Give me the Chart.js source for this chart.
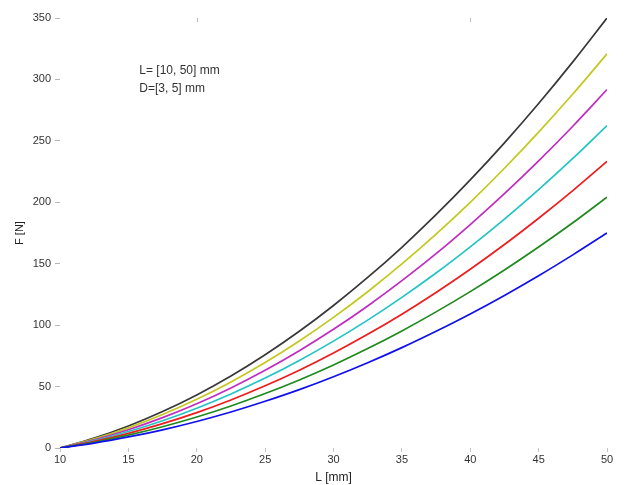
<!DOCTYPE html>
<html>
<head>
<meta charset="utf-8">
<script src="https://cdn.jsdelivr.net/npm/chart.js@4/dist/chart.umd.min.js"></script>
<style>
html,body{margin:0;padding:0;background:#fff;}
#wrap{width:629px;height:485px;position:relative;}
</style>
</head>
<body>
<div id="wrap"><canvas id="c" width="629" height="485"></canvas></div>
<script>
const lengthsMm = [10,12.5,15,17.5,20,22.5,25,27.5,30,32.5,35,37.5,40,42.5,45,47.5,50];
const forceBlue    = [0,4.0,9.0,14.8,21.6,29.3,38.0,47.5,58.0,69.4,81.7,95.0,109.1,124.2,140.2,157.2,175.0];
const forceGreen   = [0,4.7,10.5,17.3,25.2,34.2,44.3,55.4,67.6,80.9,95.3,110.8,127.3,144.9,163.6,183.3,204.2];
const forceRed     = [0,5.4,11.9,19.8,28.8,39.1,50.6,63.3,77.3,92.5,108.9,126.6,145.5,165.6,187.0,209.5,233.3];
const forceCyan    = [0,6.0,13.4,22.2,32.4,44.0,56.9,71.3,87.0,104.1,122.6,142.4,163.7,186.3,210.3,235.7,262.5];
const forceMagenta = [0,6.7,14.9,24.7,36.0,48.9,63.3,79.2,96.6,115.6,136.2,158.2,181.9,207.0,233.7,261.9,291.7];
const forceYellow  = [0,7.4,16.4,27.2,39.6,53.8,69.6,87.1,106.3,127.2,149.8,174.1,200.0,227.7,257.1,288.1,320.8];
const forceBlack   = [0,8.0,17.9,29.7,43.2,58.6,75.9,95.0,116.0,138.8,163.4,189.9,218.2,248.4,280.4,314.3,350.0];
const xTicks = [10,15,20,25,30,35,40,45,50];
const yTicks = [0,50,100,150,200,250,300,350];
const annotationLines = ["L= [10, 50] mm", "D=[3, 5] mm"];

const seriesList = [
  {name:'blue', data:forceBlue, color:'#1010ee'},
  {name:'green', data:forceGreen, color:'#1e8a1e'},
  {name:'red', data:forceRed, color:'#ee1c1c'},
  {name:'cyan', data:forceCyan, color:'#22c4c4'},
  {name:'magenta', data:forceMagenta, color:'#c02cc0'},
  {name:'yellow', data:forceYellow, color:'#c4c81e'},
  {name:'black', data:forceBlack, color:'#383838'}
];

const datasets = seriesList.map(s => ({
  label: s.name,
  data: lengthsMm.map((x,i)=>({x:x, y:s.data[i]})),
  borderColor: s.color,
  backgroundColor: s.color,
  borderWidth: 1.7,
  pointRadius: 0,
  tension: 0.4,
  cubicInterpolationMode: 'monotone',
  fill: false
}));

const annotPlugin = {
  id:'annot',
  afterDraw(chart){
    const ctx = chart.ctx;
    const xs = chart.scales.x, ys = chart.scales.y;
    ctx.save();
    ctx.font = '12px "Liberation Sans", Arial, sans-serif';
    ctx.fillStyle = '#333';
    ctx.textAlign = 'left';
    ctx.textBaseline = 'middle';
    const x0 = xs.getPixelForValue(15.8);
    ctx.fillText(annotationLines[0], x0, ys.getPixelForValue(307));
    ctx.fillText(annotationLines[1], x0, ys.getPixelForValue(292.5));
    // faint top-edge tick marks, as in the reference
    ctx.strokeStyle = 'rgba(90,90,90,0.4)';
    ctx.lineWidth = 1;
    [20,40].forEach(v=>{
      const px = Math.round(xs.getPixelForValue(v))+0.5;
      ctx.beginPath(); ctx.moveTo(px, chart.chartArea.top); ctx.lineTo(px, chart.chartArea.top+4); ctx.stroke();
    });
    ctx.restore();
  }
};

new Chart(document.getElementById('c'), {
  type:'line',
  data:{datasets},
  options:{
    responsive:false,
    animation:false,
    layout:{padding:{top:18,right:22,left:0,bottom:0}},
    plugins:{legend:{display:false},tooltip:{enabled:false}},
    scales:{
      x:{
        type:'linear', min:10, max:50,
        afterBuildTicks(axis){ axis.ticks = xTicks.map(v=>({value:v})); },
        afterFit(axis){ axis.height = 37; },
        border:{display:false},
        grid:{drawOnChartArea:false, drawTicks:true, tickLength:4, color:'rgba(0,0,0,0)', tickColor:'rgba(90,90,90,0.35)'},
        ticks:{color:'#333', font:{family:'"Liberation Sans", Arial, sans-serif', size:11}, padding:1, maxRotation:0},
        title:{display:true, text:'L [mm]', color:'#222', font:{family:'"Liberation Sans", Arial, sans-serif', size:12}, padding:{top:0,bottom:0}}
      },
      y:{
        type:'linear', min:0, max:350,
        afterBuildTicks(axis){ axis.ticks = yTicks.map(v=>({value:v})); },
        afterFit(axis){ axis.width = 60; },
        border:{display:false},
        grid:{drawOnChartArea:false, drawTicks:true, tickLength:5, color:'rgba(0,0,0,0)', tickColor:'rgba(90,90,90,0.45)'},
        ticks:{color:'#333', font:{family:'"Liberation Sans", Arial, sans-serif', size:11}, padding:4},
        title:{display:true, text:'F [N]', color:'#222', font:{family:'"Liberation Sans", Arial, sans-serif', size:11}, padding:{top:13,bottom:4}}
      }
    }
  },
  plugins:[annotPlugin]
});
</script>
</body>
</html>
